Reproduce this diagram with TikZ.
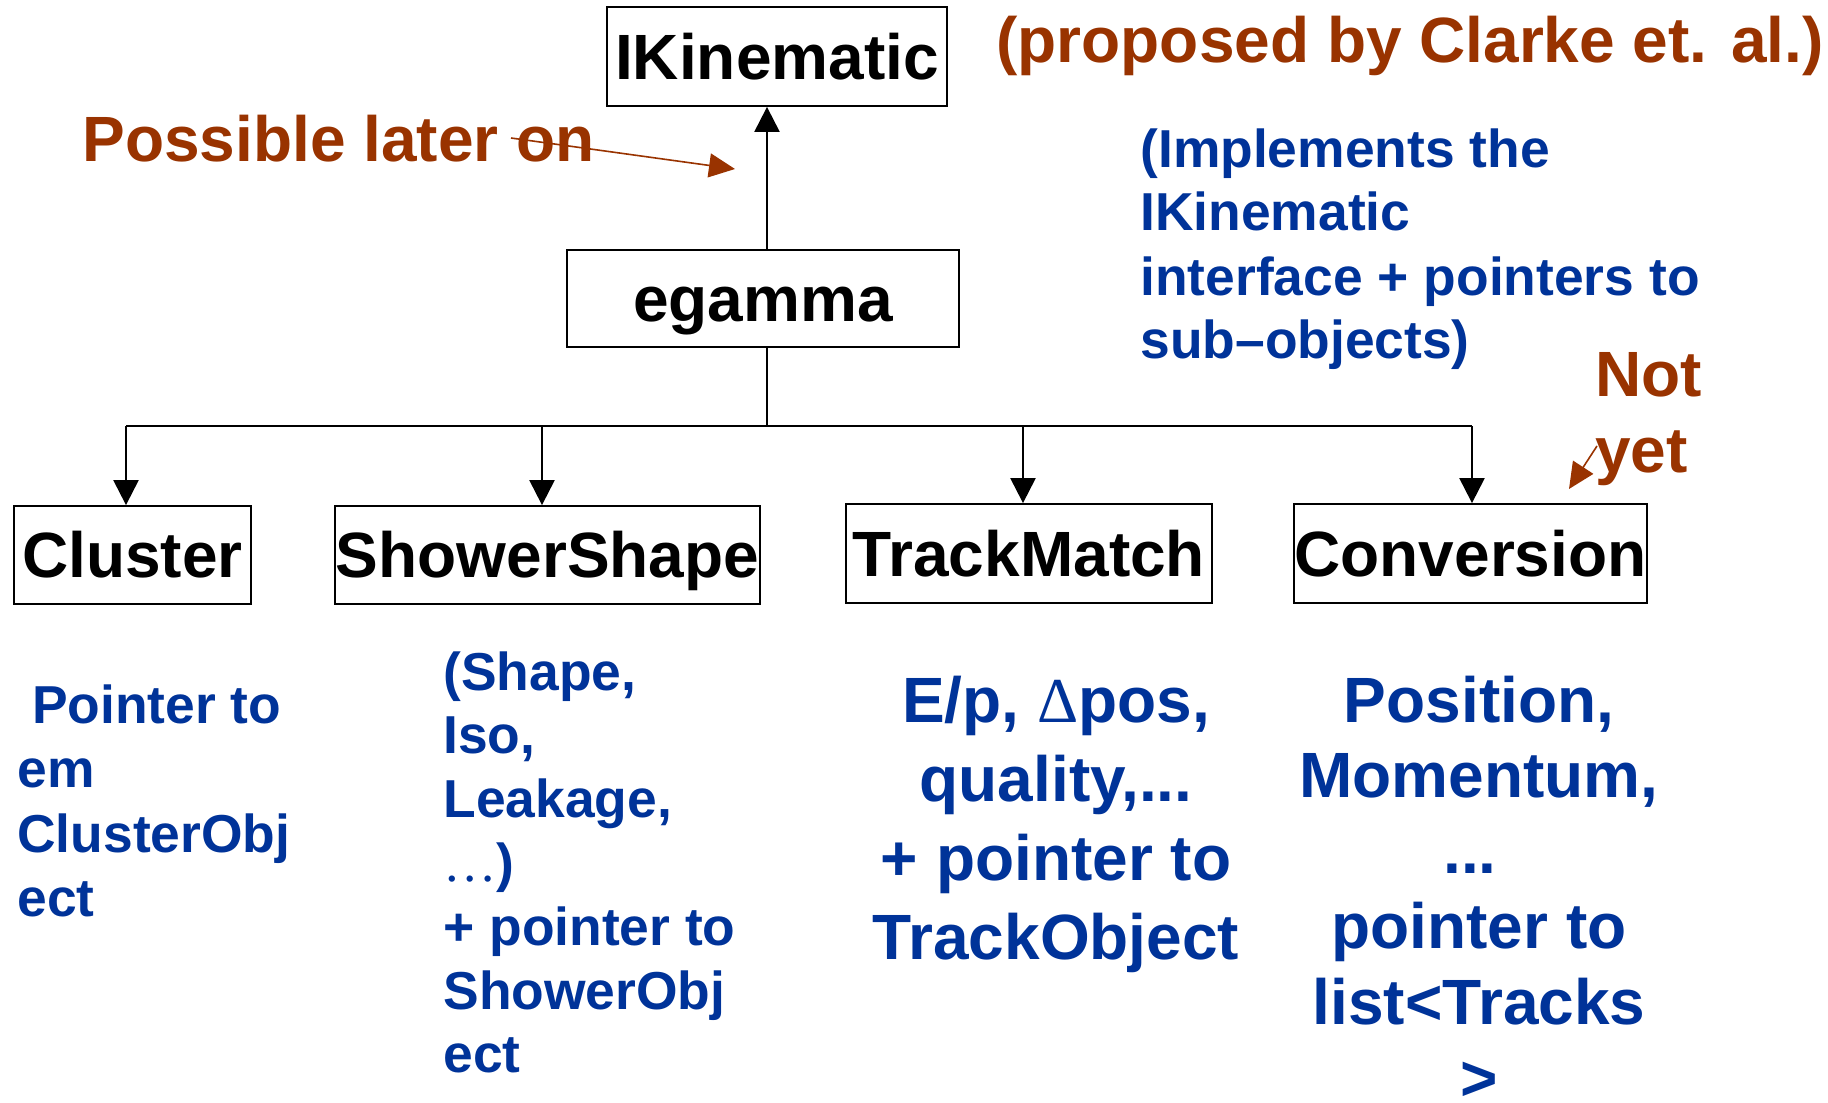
\documentclass[tikz,border=0pt]{standalone}
\usepackage{fontspec}
\setmainfont{Liberation Sans}
\newfontfamily\serifsym{Liberation Serif}
\usetikzlibrary{arrows.meta}

\definecolor{notebrown}{RGB}{153,51,0}
\definecolor{noteblue}{RGB}{0,51,153}

\tikzset{
  classbox/.style={draw=black, line width=0.9pt, inner sep=0pt, fill=white,
    font=\bfseries\fontsize{32}{38}\selectfont, text height=22.9pt, text depth=0pt},
  link/.style={draw=black, line width=1.1pt},
  linkarrow/.style={link, -{Triangle[length=12.5pt,width=12.5pt]}},
  notearrow/.style={draw=notebrown, line width=0.8pt,
    -{Triangle[length=13pt,width=12pt,fill=notebrown]}},
  brownnote/.style={text=notebrown, inner sep=0pt, font=\bfseries\fontsize{32}{38}\selectfont},
  bluenote/.style={text=noteblue, inner sep=0pt, font=\bfseries\fontsize{26.7}{32}\selectfont},
  bluebig/.style={text=noteblue, inner sep=0pt, font=\bfseries\fontsize{32}{38}\selectfont},
}

\begin{document}
\begin{tikzpicture}[x=0.5pt,y=-0.5pt]
\useasboundingbox (0,0) rectangle (1828,1103);
\clip (0,0) rectangle (1828,1103);
\fill[white] (0,0) rectangle (1828,1103);

% class boxes
\node[classbox, minimum width=170pt, minimum height=49.5pt] (ikin) at (777,56.5) {IKinematic};
\node[classbox, minimum width=196pt, minimum height=48.5pt] (egamma) at (763,298.5) {egamma};
\node[classbox, minimum width=118.5pt, minimum height=49pt] (cluster) at (132.5,555) {Cluster};
\node[classbox, minimum width=212.5pt, minimum height=49pt] (shower) at (547.5,555) {ShowerShape};
\node[classbox, minimum width=183pt, minimum height=49.5pt] (track) at (1029,553.5) {TrackMatch};
\node[classbox, minimum width=176.5pt, minimum height=49.5pt] (conv) at (1470.5,553.5) {Conversion};

% inheritance and composition links
\coordinate (spine) at (767,426);
\coordinate (b1) at (126,426);
\coordinate (b2) at (542,426);
\coordinate (b3) at (1023,426);
\coordinate (b4) at (1472,426);
\draw[linkarrow] (spine |- egamma.north) -- (spine |- ikin.south);
\draw[link] (spine |- egamma.south) -- (spine);
\draw[link] (b1) -- (b4);
\draw[linkarrow] (b1) -- (b1 |- cluster.north);
\draw[linkarrow] (b2) -- (b2 |- shower.north);
\draw[linkarrow] (b3) -- (b3 |- track.north);
\draw[linkarrow] (b4) -- (b4 |- conv.north);

% annotations
\node[brownnote, anchor=base west] (proposed) at (996,62) {(proposed by Clarke et. al.)};
\node[brownnote, anchor=base west] (later) at (82,161) {Possible later on};
\node[brownnote, anchor=base west] (notyet) at (1595,396)
  {\begin{tabular}[t]{@{}l@{}}Not\\yet\end{tabular}};

\node[bluenote, anchor=base west] (implements) at (1140,167)
  {\begin{tabular}[t]{@{}l@{}}(Implements the\\IKinematic\\interface + pointers to\\sub–objects)\end{tabular}};

\node[bluenote, font=\bfseries\fontsize{26.7}{32.3}\selectfont, anchor=base west] (clusterinfo) at (17,723)
  {\begin{tabular}[t]{@{}l@{}}\ Pointer to\\em\\ClusterObj\\ect\end{tabular}};

\node[bluenote, font=\bfseries\fontsize{26.7}{31.9}\selectfont, anchor=base west] (showerinfo) at (443,690)
  {\begin{tabular}[t]{@{}l@{}}(Shape,\\Iso,\\Leakage,\\{\serifsym\mdseries …})\\+ pointer to\\ShowerObj\\ect\end{tabular}};

\node[bluebig, font=\bfseries\fontsize{32}{39.5}\selectfont, anchor=base] (trackinfo) at (1056,722)
  {\begin{tabular}[t]{@{}c@{}}E/p, {\serifsym\mdseries Δ}pos,\\quality,...\\+ pointer to\\TrackObject\end{tabular}};

\node[bluebig, font=\bfseries\fontsize{32}{37.8}\selectfont, anchor=base] (convinfo) at (1479,722)
  {\begin{tabular}[t]{@{}c@{}}Position,\\Momentum,\\...\hspace*{9pt}\\pointer to\\list<Tracks\\>\end{tabular}};

% pointer arrows of the notes
\coordinate (laterTail) at (511,138);
\coordinate (laterTip) at (735,169);
\draw[notearrow] (laterTail) -- (laterTip);
\coordinate (notTail) at (1597,446);
\coordinate (notTip) at (1569,489);
\draw[notearrow] (notTail) -- (notTip);
\end{tikzpicture}
\end{document}
